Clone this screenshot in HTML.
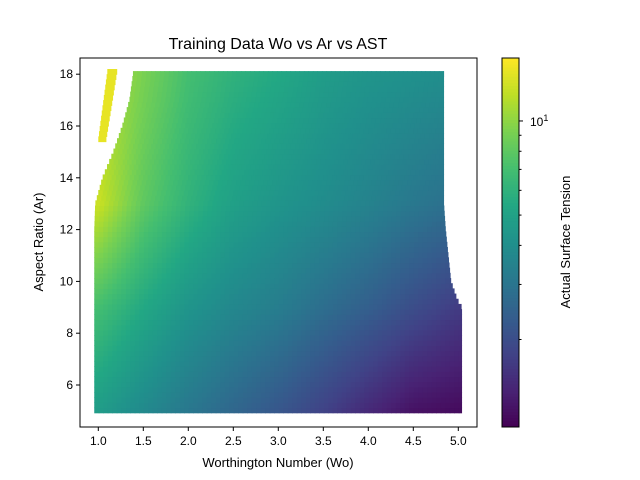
<!DOCTYPE html>
<html><head><meta charset="utf-8">
<style>
body{margin:0;background:#fff;}
svg{display:block;font-family:"Liberation Sans","DejaVu Sans",sans-serif;}
</style></head>
<body>
<svg id="chart" width="640" height="480" viewBox="0 0 640 480">
<rect x="0" y="0" width="640" height="480" fill="#fff"/>
<g id="marks"></g>
<g id="cbar"></g>
<g id="axes"></g>
<text x="278" y="49" font-size="16" text-anchor="middle">Training Data Wo vs Ar vs AST</text>
<text x="278" y="467" font-size="13" text-anchor="middle">Worthington Number (Wo)</text>
<text x="0" y="0" font-size="13" text-anchor="middle" transform="translate(43,242) rotate(-90)">Aspect Ratio (Ar)</text>
<text x="0" y="0" font-size="13" text-anchor="middle" transform="translate(570,242) rotate(-90)">Actual Surface Tension</text>
</svg>
<script>
// ---- data ----
const woGrid = [1.0,1.5,2.0,2.5,3.0,3.5,4.0,4.5,5.0];
const arGrid = [5,9,13,18];
const astRow5  = [4.7,3.8,3.1,2.6,2.2,1.8,1.45,1.2,1.14];
const astRow9  = [7.0,5.4,4.3,3.7,3.3,2.8,2.4,2.0,1.7];
const astRow13 = [12.8,8.1,6.1,4.9,4.3,3.9,3.5,3.1,2.8];
const astRow18 = [12.1,9.2,7.0,6.0,5.4,4.7,4.3,4.1,3.9];
const boundAr    = [5.05,9,9.3,10,12,13,14,15,16,17,18];
const boundLeft  = [0.99,0.99,0.99,0.99,0.99,1.0,1.08,1.2,1.3,1.38,1.42];
const boundRight = [5.0,5.0,4.95,4.88,4.82,4.8,4.8,4.8,4.8,4.8,4.8];
const streakAr = [15.4,18];
const streakLeft = [1.0,1.1];
const streakRight = [1.09,1.21];
const streakAst = 14.5;
const xTicks = [1.0,1.5,2.0,2.5,3.0,3.5,4.0,4.5,5.0];
const xTickLabels = ["1.0","1.5","2.0","2.5","3.0","3.5","4.0","4.5","5.0"];
const yTicks = [6,8,10,12,14,16,18];
const yTickLabels = ["6","8","10","12","14","16","18"];
const cbMinorTicks = [2,3,4,5,6,7,8,9];
const cbMin = 1.05, cbMax = 15.9;

// ---- scales ----
const X0=80,X1=477,Y0=58,Y1=427;
const xs = v => 98.3 + (v-1)*90;
const ys = v => 385 - (v-6)*25.9;
const cs = v => Y1 - (Math.log10(v)-Math.log10(cbMin))/(Math.log10(cbMax)-Math.log10(cbMin))*(Y1-Y0);
const NS="http://www.w3.org/2000/svg";
function mk(tag,attrs,parent){const e=document.createElementNS(NS,tag);for(const k in attrs)e.setAttribute(k,attrs[k]);parent.appendChild(e);return e;}

const VIR=[[68,1,84],[72,35,116],[64,67,135],[52,94,141],[41,120,142],[32,144,140],[34,167,132],[68,190,112],[121,209,81],[189,222,38],[253,231,37]];
function viridis(t){t=Math.max(0,Math.min(1,t));const f=t*10,i=Math.min(9,Math.floor(f)),r=f-i;const a=VIR[i],b=VIR[i+1];
return `rgb(${Math.round(a[0]+(b[0]-a[0])*r)},${Math.round(a[1]+(b[1]-a[1])*r)},${Math.round(a[2]+(b[2]-a[2])*r)})`;}
const colorOf = v => viridis((Math.log10(v)-Math.log10(cbMin))/(Math.log10(cbMax)-Math.log10(cbMin)));

function interp1(xsArr,vals,x){if(x<=xsArr[0])return vals[0];for(let i=1;i<xsArr.length;i++){if(x<=xsArr[i]){const r=(x-xsArr[i-1])/(xsArr[i]-xsArr[i-1]);return vals[i-1]+(vals[i]-vals[i-1])*r;}}return vals[vals.length-1];}
const rows=[astRow5,astRow9,astRow13,astRow18];
function ast(wo,ar){const logRows=rows.map(r=>interp1(woGrid,r.map(Math.log),wo));return Math.exp(interp1(arGrid,logRows,ar));}

// ---- marks (marker radius pad ~3px) ----
const marks=document.getElementById('marks');
const dW=0.05,dA=0.2,padW=0.035,padA=0.12;
const arLo=boundAr[0]-padA, arHi=boundAr[boundAr.length-1]+padA;
for(let ar=arLo; ar<arHi-1e-6; ar+=dA){
  const top=Math.min(arHi,ar+dA);
  const mid=Math.min(18,Math.max(5.05,(ar+top)/2));
  const L=interp1(boundAr,boundLeft,mid)-padW, R=interp1(boundAr,boundRight,mid)+padW;
  for(let wo=L; wo<R; wo+=dW){
    const w=Math.min(dW,R-wo);
    const r=mk('rect',{x:xs(wo).toFixed(2),y:ys(top).toFixed(2),width:(w*90+0.6).toFixed(2),height:((top-ar)*25.9+0.6).toFixed(2),fill:colorOf(ast(Math.min(5,wo+w/2),mid))},marks);
    
    
  }
}
// streak
for(let ar=streakAr[0]; ar<streakAr[1]; ar+=dA){
  const L=interp1(streakAr,streakLeft,ar), R=interp1(streakAr,streakRight,ar);
  const r=mk('rect',{x:xs(L),y:ys(ar+dA),width:(R-L)*90,height:dA*25.9+0.6,fill:colorOf(streakAst)},marks);
  
  
}

// ---- axes ----
const axes=document.getElementById('axes');
mk('rect',{x:X0,y:Y0,width:X1-X0,height:Y1-Y0,fill:'none',stroke:'#000','stroke-width':1},axes);
xTicks.forEach((t,i)=>{const x=xs(t);mk('line',{x1:x,x2:x,y1:Y1,y2:Y1+4,stroke:'#000'},axes);
 const tx=mk('text',{x:x,y:Y1+18,'font-size':12,'text-anchor':'middle'},axes);tx.textContent=xTickLabels[i];
 
 });
yTicks.forEach((t,i)=>{const y=ys(t);mk('line',{x1:X0-4,x2:X0,y1:y,y2:y,stroke:'#000'},axes);
 const tx=mk('text',{x:X0-7,y:y+4,'font-size':12,'text-anchor':'end'},axes);tx.textContent=yTickLabels[i];
 
 });

// ---- colorbar ----
const cb=document.getElementById('cbar');
const N=120;
for(let i=0;i<N;i++){const v0=Math.pow(10,Math.log10(cbMin)+(Math.log10(cbMax)-Math.log10(cbMin))*i/N);
 const v1=Math.pow(10,Math.log10(cbMin)+(Math.log10(cbMax)-Math.log10(cbMin))*(i+1)/N);
 mk('rect',{x:502,y:cs(v1),width:17,height:cs(v0)-cs(v1)+0.5,fill:colorOf(Math.sqrt(v0*v1))},cb);}
mk('rect',{x:502,y:Y0,width:17,height:Y1-Y0,fill:'none',stroke:'#000'},cb);
cbMinorTicks.forEach(t=>{const y=cs(t);mk('line',{x1:519,x2:521.5,y1:y,y2:y,stroke:'#000'},cb);});
mk('line',{x1:519,x2:523,y1:cs(10),y2:cs(10),stroke:'#000'},cb);
const ct=mk('text',{x:530,y:cs(10)+5,'font-size':12},cb);ct.textContent='10';
const sup=mk('tspan',{dy:-5,'font-size':9},ct);sup.textContent='1';


</script>
</body></html>
